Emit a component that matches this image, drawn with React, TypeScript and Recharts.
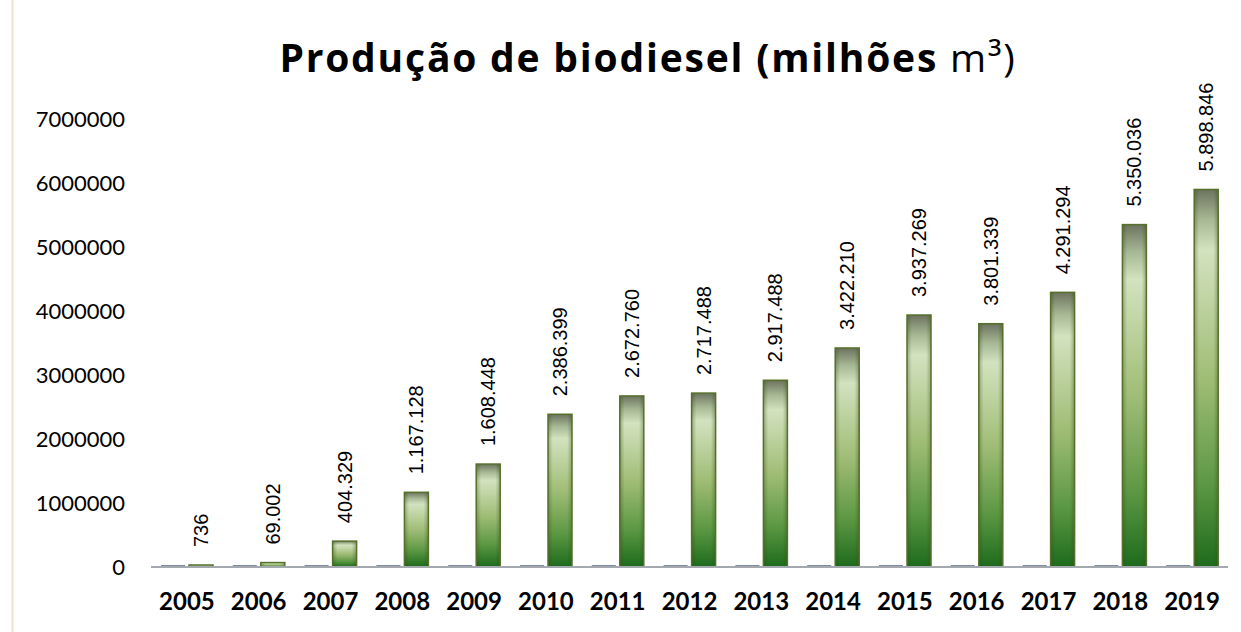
import { Bar, BarChart, LabelList, XAxis, YAxis } from "recharts"

const years = ["2005", "2006", "2007", "2008", "2009", "2010", "2011", "2012", "2013", "2014", "2015", "2016", "2017", "2018", "2019"]
const production = [736, 69002, 404329, 1167128, 1608448, 2386399, 2672760, 2717488, 2917488, 3422210, 3937269, 3801339, 4291294, 5350036, 5898846]
// empty companion series from the source sheet, shows as a flat stub on the baseline
const empty = [0, 0, 0, 0, 0, 0, 0, 0, 0, 0, 0, 0, 0, 0, 0]
const yTicks = [0, 1000000, 2000000, 3000000, 4000000, 5000000, 6000000, 7000000]

const data = years.map((year, i) => ({ year, empty: empty[i], value: production[i] }))

const fmt = (v: number) => String(v).replace(/\B(?=(\d{3})+(?!\d))/g, ".")

function GreenBar(props: any) {
  const { x, y, width, height } = props
  if (height <= 0) return null
  return (
    <g>
      <rect x={x} y={y} width={width} height={height} fill="url(#greenFill)" />
      <rect x={x} y={y} width={width} height={height} fill="url(#sideShade)" />
      <rect x={x} y={y} width={width} height={height} fill="none" stroke="#56702a" strokeWidth={1.5} />
    </g>
  )
}

function ValueLabel(props: any) {
  const { x, y, width, value } = props
  const cx = x + width / 2
  const ty = y - 18
  return (
    <text
      x={cx}
      y={ty}
      transform={`rotate(-90 ${cx} ${ty})`}
      textAnchor="start"
      dominantBaseline="central"
      fontFamily="'Liberation Sans', Arial, sans-serif"
      fontSize={20}
      fill="#000"
    >
      {fmt(value)}
    </text>
  )
}

export default function App() {
  return (
    <div style={{ position: "absolute", left: 0, top: 0, width: 1241, height: 632, background: "#fff" }}>
      <div
        style={{
          position: "absolute",
          left: 11,
          top: 0,
          width: 3,
          height: 632,
          background: "linear-gradient(to right, #f4f1e6, #ebe6d4, #f7f5ee)",
        }}
      />
      <div
        style={{
          position: "absolute",
          left: 0,
          width: 1296,
          top: 31,
          textAlign: "center",
          fontFamily: "'Open Sans', sans-serif",
          fontSize: 39,
          letterSpacing: 1.8,
          lineHeight: "52px",
          color: "#000",
          whiteSpace: "nowrap",
        }}
      >
        <span style={{ fontWeight: 700 }}>Produção de biodiesel (milhões </span>
        <span>m³)</span>
      </div>
      <BarChart
        width={1241}
        height={632}
        data={data}
        margin={{ top: 119, right: 13, bottom: 0, left: 0 }}
        barSize={24}
        barGap={4}
      >
        <defs>
          <linearGradient id="greenFill" x1="0" y1="0" x2="0" y2="1">
            <stop offset="0" stopColor="#6d735f" />
            <stop offset="0.08" stopColor="#a7b894" />
            <stop offset="0.16" stopColor="#d3e2bf" />
            <stop offset="0.5" stopColor="#a0bd76" />
            <stop offset="0.78" stopColor="#5c9843" />
            <stop offset="1" stopColor="#1d6b1d" />
          </linearGradient>
          <linearGradient id="sideShade" x1="0" y1="0" x2="1" y2="0">
            <stop offset="0" stopColor="#2f4a12" stopOpacity={0.35} />
            <stop offset="0.2" stopColor="#2f4a12" stopOpacity={0} />
            <stop offset="0.8" stopColor="#2f4a12" stopOpacity={0} />
            <stop offset="1" stopColor="#2f4a12" stopOpacity={0.35} />
          </linearGradient>
        </defs>
        <XAxis
          dataKey="year"
          height={65}
          axisLine={{ stroke: "#a3a9ae", strokeWidth: 2 }}
          tickLine={false}
          tickMargin={20}
          interval={0}
          tick={{ fill: "#000", fontFamily: "Lato, sans-serif", fontWeight: 700, fontSize: 24 }}
        />
        <YAxis
          width={151}
          domain={[0, 7000000]}
          ticks={yTicks}
          axisLine={false}
          tickLine={false}
          tickMargin={20}
          tick={{ fill: "#000", fontFamily: "Lato, sans-serif", fontSize: 22 }}
        />
        <Bar dataKey="empty" fill="#7d8c9c" minPointSize={2} isAnimationActive={false} />
        <Bar dataKey="value" shape={<GreenBar />} minPointSize={2} isAnimationActive={false}>
          <LabelList dataKey="value" content={<ValueLabel />} />
        </Bar>
      </BarChart>
    </div>
  )
}
